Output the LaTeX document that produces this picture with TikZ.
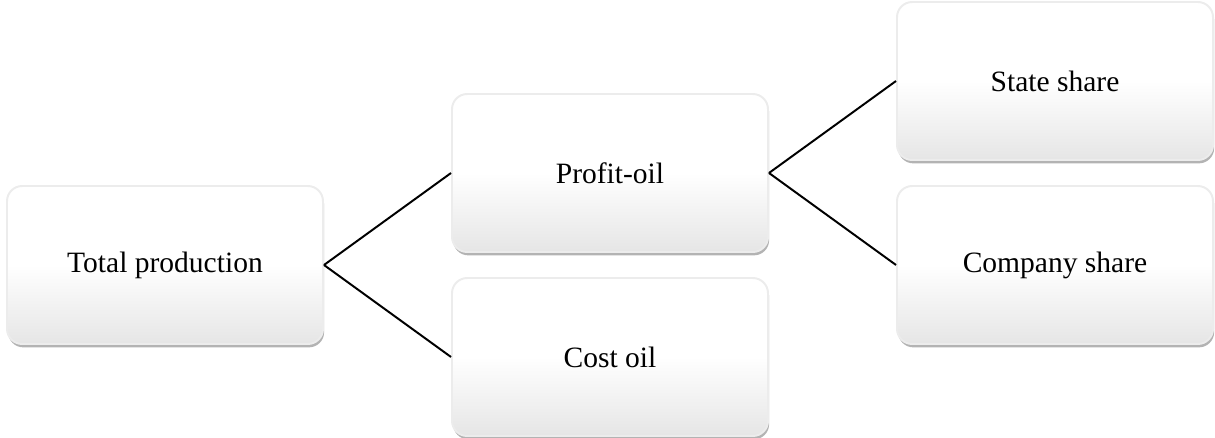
\documentclass[tikz,border=0pt]{standalone}
\usepackage{fontspec}
\setmainfont{Liberation Serif}
\usepackage{tikz}
\usetikzlibrary{shadows,positioning}

\tikzset{
  share box/.style={rectangle, rounded corners=0.38cm, minimum width=7.9cm,
    minimum height=3.95cm, draw=gray!15, top color=white, bottom color=gray!20,
    middle color=white, drop shadow={shadow xshift=0.8pt, shadow yshift=-2.4pt,
    opacity=0.6}, font=\fontsize{21}{25}\selectfont}
}

\begin{document}
\begin{tikzpicture}[-,line width=1.4pt,auto,node distance=11.125cm]
  \useasboundingbox (-4.125,-4.325) rectangle (26.25,6.625);
  % Production split
  \node[share box]  (total)                                 {Total production};
  \node[share box]  (profit)  [right of=total, yshift= 2.3cm] {Profit-oil};
  \node[share box]  (cost)    [right of=total, yshift=-2.3cm] {Cost oil};
  % Profit-oil split
  \node[share box]  (state)   [right of=profit, yshift= 2.3cm]  {State share};
  \node[share box]  (company) [right of=profit, yshift=-2.3cm]  {Company share};
  % Connecting edges
  \path
  (total.east)  edge (profit.west)
  (total.east)  edge (cost.west)
  (profit.east) edge (state.west)
  (profit.east) edge (company.west);
\end{tikzpicture}
\end{document}
